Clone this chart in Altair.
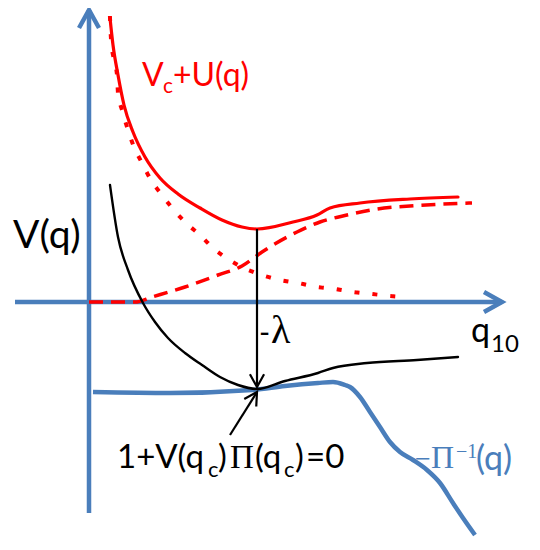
import altair as alt
import pandas as pd

# ---------------- values ----------------
# q: horizontal position (vertical axis at q = 0); v: vertical position (horizontal axis at v = 0)
red_solid_q = [21, 24, 29, 35, 44, 56, 71, 89, 111, 133, 153, 168, 204, 228, 241, 271, 321, 369]
red_solid_v = [284, 257, 227, 197, 170, 145, 124, 108, 94, 82, 75, 73, 80, 87, 94, 99, 103, 105]

red_dot_q = [21, 22, 25, 28, 29, 33, 38, 45, 53, 62, 73, 84, 97, 111, 124, 139, 155, 173,
             191, 209, 228, 246, 264, 283, 301, 319]
red_dot_v = [284, 263, 242, 227, 209, 192, 175, 155, 139, 122, 107, 93, 79, 67, 54, 43, 34, 27,
             22, 19, 15, 13, 10, 8, 6, 5]

red_dash_q = [0, 46, 63, 96, 129, 153, 173, 184, 208, 231, 258, 288, 321, 383]
red_dash_v = [0, 0, 5, 15, 27, 36, 50, 57, 70, 80, 87, 93, 96, 99]

black_q = [21, 29, 39, 54, 66, 79, 96, 113, 131, 149, 168, 196, 229, 244, 278, 328, 369]
black_v = [117, 65, 32, -1, -20, -36, -51, -63, -75, -83, -87, -79, -71, -66, -61, -58, -55]

blue_q = [4, 81, 163, 196, 229, 244, 256, 261, 271, 281, 291, 301, 311, 324, 338, 351, 364, 374, 386]
blue_v = [-90, -91, -88, -84, -81, -80, -83, -85, -95, -110, -125, -140, -150, -158, -168, -181,
          -201, -216, -233]

# axes extents
yaxis_bottom, yaxis_top = -211, 292
xaxis_left, xaxis_right = -74, 413

# -lambda arrow (from the minimum of V_c+U down to the touching point) and pointer arrow
lam_q, lam_top, lam_bottom = 168, 73, -85
ptr_tail_q, ptr_tail_v, ptr_tip_q, ptr_tip_v = 141, -133, 168, -90

# text pieces: text, q (left edge), v (baseline), size, colour
sans_labels = [
    ("V(q)", -76, 54, 39, "#000000"),
    ("V", 53, 216, 32, "#ff0000"),
    ("c", 74, 209, 21, "#ff0000"),
    ("+U(q)", 84, 216, 32, "#ff0000"),
    ("-", 170, -41, 30, "#000000"),
    ("q", 382, -40, 34, "#000000"),
    ("10", 402, -50, 24, "#000000"),
    # 1+V(q_c)Π(q_c)=0
    ("1+V(q", 28, -166, 33, "#000000"),
    ("c", 119, -175, 22, "#000000"),
    (")", 129, -166, 33, "#000000"),
    ("(q", 166, -166, 33, "#000000"),
    ("c", 195, -175, 22, "#000000"),
    (")", 206, -166, 33, "#000000"),
    ("=0", 217, -166, 33, "#000000"),
    # -Π^-1(q)
    ("(q)", 387, -168, 34, "#4a7ebb"),
]
serif_labels = [
    ("λ", 182, -41, 40, "#000000"),
    ("Π", 141, -166, 33, "#000000"),
    ("−", 326, -166, 28, "#4a7ebb"),
    ("Π", 342, -166, 32, "#4a7ebb"),
    ("−1", 367, -156, 20, "#4a7ebb"),
]

BLUE = "#4a7ebb"
RED = "#ff0000"

# ---------------- chart ----------------
X = alt.Scale(domain=[-81, 443])
Y = alt.Scale(domain=[-240, 294])


def curve(q, v, color, width, dash=None, cap="butt"):
    df = pd.DataFrame({"q": q, "v": v, "i": list(range(len(q)))})
    props = dict(color=color, strokeWidth=width, strokeCap=cap, strokeJoin="round",
                 interpolate="monotone")
    if dash is not None:
        props["strokeDash"] = dash
    return alt.Chart(df).mark_line(**props).encode(
        x=alt.X("q:Q", scale=X, axis=None),
        y=alt.Y("v:Q", scale=Y, axis=None),
        order=alt.Order("i:Q"),
    )


axes_df = pd.DataFrame({
    "q": [0, xaxis_left], "q2": [0, xaxis_right],
    "v": [yaxis_bottom, 0], "v2": [yaxis_top, 0],
})
axes = alt.Chart(axes_df).mark_rule(color=BLUE, strokeWidth=4.5, strokeCap="butt").encode(
    x=alt.X("q:Q", scale=X, axis=None), x2="q2",
    y=alt.Y("v:Q", scale=Y, axis=None), y2="v2",
)

CHEVRON = "M-1,1.8L0,0L1,1.8"
axis_heads_df = pd.DataFrame({"q": [0, xaxis_right], "v": [yaxis_top, 0], "a": [0, 90]})
axis_heads = alt.Chart(axis_heads_df).mark_point(
    shape=CHEVRON, filled=False, stroke=BLUE, strokeWidth=4.5, size=400,
    strokeJoin="miter", opacity=1,
).encode(
    x=alt.X("q:Q", scale=X, axis=None), y=alt.Y("v:Q", scale=Y, axis=None),
    angle=alt.Angle("a:Q", scale=None),
)

arrows_df = pd.DataFrame({
    "q": [lam_q, ptr_tail_q], "q2": [lam_q, ptr_tip_q],
    "v": [lam_top, ptr_tail_v], "v2": [lam_bottom, ptr_tip_v],
})
arrows = alt.Chart(arrows_df).mark_rule(color="#000000", strokeWidth=2.2).encode(
    x=alt.X("q:Q", scale=X, axis=None), x2="q2",
    y=alt.Y("v:Q", scale=Y, axis=None), y2="v2",
)
arrow_heads_df = pd.DataFrame({"q": [lam_q, ptr_tip_q], "v": [lam_bottom, ptr_tip_v], "a": [180, 32]})
arrow_heads = alt.Chart(arrow_heads_df).mark_point(
    shape=CHEVRON, filled=False, stroke="#000000", strokeWidth=2.2, size=200,
    strokeJoin="miter", opacity=1,
).encode(
    x=alt.X("q:Q", scale=X, axis=None), y=alt.Y("v:Q", scale=Y, axis=None),
    angle=alt.Angle("a:Q", scale=None),
)


def text_layer(labels, font):
    df = pd.DataFrame(labels, columns=["t", "q", "v", "s", "c"])
    return alt.Chart(df).mark_text(align="left", baseline="alphabetic", font=font).encode(
        x=alt.X("q:Q", scale=X, axis=None), y=alt.Y("v:Q", scale=Y, axis=None),
        text="t:N", size=alt.Size("s:Q", scale=None), color=alt.Color("c:N", scale=None),
    )


chart = alt.layer(
    axes,
    axis_heads,
    curve(blue_q, blue_v, BLUE, 4.5),
    curve(red_dash_q, red_dash_v, RED, 3.5, dash=[14, 8]),
    curve(red_dot_q, red_dot_v, RED, 4, dash=[1, 17], cap="square"),
    curve(red_solid_q, red_solid_v, RED, 3.2, cap="round"),
    curve(black_q, black_v, "#000000", 2.4, cap="round"),
    arrows,
    arrow_heads,
    text_layer(sans_labels, "Lato"),
    text_layer(serif_labels, "Liberation Serif"),
).properties(
    width=524, height=534, padding=0, autosize=alt.AutoSizeParams(type="none"),
    background="white",
).configure_view(stroke=None)

chart.save("out.html", embed_options={"renderer": "svg", "actions": False})
